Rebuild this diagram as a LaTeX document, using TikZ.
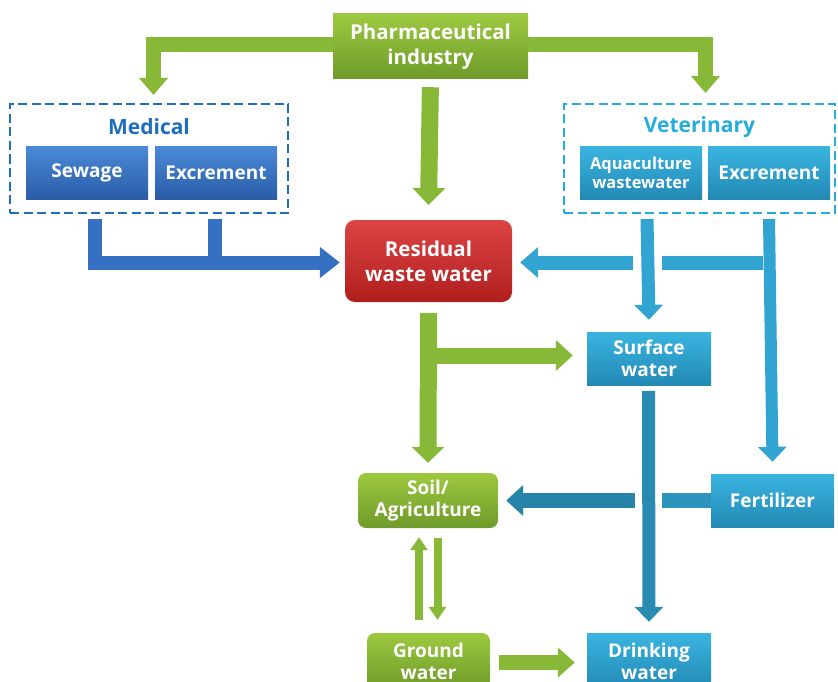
\documentclass[tikz,border=0pt]{standalone}
\usepackage{fontspec}
\setmainfont{Open Sans}
\usetikzlibrary{arrows.meta}
\definecolor{gtop}{HTML}{9DC940}
\definecolor{gbot}{HTML}{6E9A2A}
\definecolor{garr}{HTML}{88B838}
\definecolor{btop}{HTML}{4A8AD6}
\definecolor{bbot}{HTML}{2A5CA8}
\definecolor{barr}{HTML}{3670C2}
\definecolor{ltop}{HTML}{3AB4E0}
\definecolor{lbot}{HTML}{2389B5}
\definecolor{larr}{HTML}{31A4D2}
\definecolor{rtop}{HTML}{DD4444}
\definecolor{rbot}{HTML}{B01E1E}
\definecolor{medcol}{HTML}{1F6DBF}
\definecolor{vetcol}{HTML}{25ACDF}
\tikzset{
  boxtext/.style={text=white, font=\bfseries\fontsize{19}{22}\selectfont, align=center, inner sep=0pt},
  greenbox/.style={boxtext, top color=gtop, bottom color=gbot, draw=none},
  bluebox/.style={boxtext, top color=btop, bottom color=bbot, draw=none, minimum width=122pt, minimum height=52pt},
  lbluebox/.style={boxtext, top color=ltop, bottom color=lbot, draw=none},
  dashbox/.style={draw, line width=2.2pt, dash pattern=on 9pt off 4.5pt, minimum width=#1, minimum height=109pt},
  titletext/.style={font=\bfseries\fontsize{21}{24}\selectfont, inner sep=0pt},
  garrow/.style={draw=garr, line width=16pt, -{Triangle[width=30pt,length=16pt]}},
  gthin/.style={draw=garr, line width=8pt, -{Triangle[width=17pt,length=13pt]}},
  barrow/.style={draw=barr, line width=14pt, -{Triangle[width=30pt,length=20pt]}},
  bbar/.style={draw=barr, line width=14pt},
  larrow/.style={draw=larr, line width=13pt, -{Triangle[width=28pt,length=15pt]}},
  lbar/.style={draw=larr, line width=14pt},
  lhead/.style={draw=larr, line width=14pt, -{Triangle[width=30pt,length=18pt]}},
}
\begin{document}
\begin{tikzpicture}[x=1pt,y=-1pt]
\useasboundingbox (0,0) rectangle (838,682);
\clip (0,0) rectangle (838,682);

% boxes
\node[greenbox, minimum width=195pt, minimum height=65pt, font=\bfseries\fontsize{20.5}{24.5}\selectfont] (pharma) at (430.5,46.5) {Pharmaceutical\\industry};

\node[dashbox=278pt, draw=medcol] (medbox) at (149,158.5) {};
\node[titletext, text=medcol] (medlbl) at (149,127) {Medical};
\node[bluebox] (sewage) at (87,173) {Sewage};
\node[bluebox] (excr1) at (216,173) {Excrement};

\node[dashbox=271pt, draw=vetcol] (vetbox) at (699.5,158.5) {};
\node[titletext, text=vetcol] (vetlbl) at (699.5,127) {Veterinary};
\node[lbluebox, minimum width=122pt, minimum height=52pt, font=\bfseries\fontsize{16.5}{19}\selectfont] (aqua) at (641,173) {Aquaculture\\wastewater};
\node[lbluebox, minimum width=122pt, minimum height=52pt] (excr2) at (769,173) {Excrement};

\node[boxtext, top color=rtop, bottom color=rbot, rounded corners=10pt, minimum width=167pt, minimum height=82pt, font=\bfseries\fontsize{20.5}{25}\selectfont] (residual) at (428.5,261) {Residual\\waste water};

\node[lbluebox, minimum width=124pt, minimum height=53pt] (surface) at (649,358.5) {Surface\\water};
\node[lbluebox, minimum width=123pt, minimum height=53pt] (fert) at (772.5,500.5) {Fertilizer};
\node[greenbox, rounded corners=8pt, minimum width=140pt, minimum height=55pt] (soil) at (428,500.5) {Soil/\\Agriculture};
\node[greenbox, rounded corners=8pt, minimum width=123pt, minimum height=56pt] (ground) at (428.5,661) {Ground\\water};
\node[lbluebox, minimum width=124pt, minimum height=56pt] (drink) at (649,661) {Drinking\\water};

% coordinates
\coordinate (medtip) at (153.5,95);
\coordinate (vettip) at (705.5,93);
\coordinate (restop) at (428.5,205);
\coordinate (m1) at (95,219);
\coordinate (m2) at (215,219);
\coordinate (m2j) at (215,262.5);
\coordinate (a1) at (647,219);
\coordinate (v2) at (769,219);
\coordinate (vj) at (769,262.5);
\coordinate (gapR) at (662,262.5);
\coordinate (gapL) at (633,262.5);
\coordinate (r1) at (428.5,313);
\coordinate (rj) at (437,355.5);
\coordinate (s1) at (648.5,391);
\coordinate (fgR) at (662,500.5);
\coordinate (fgL) at (635,500.5);
\coordinate (up1) at (419,620);
\coordinate (dn1) at (437.5,538);

% green arrows from pharma
\draw[garrow, line width=15pt, {-Triangle[width=28pt,length=17pt]}] ([yshift=1.5pt]pharma.west) -| (medtip);
\draw[garrow, line width=15pt, {-Triangle[width=28pt,length=17pt]}] ([yshift=1.5pt]pharma.east) -| (vettip);
\draw[garrow, line width=17pt, {-Triangle[width=32pt,length=17pt]}, shorten <=8pt] (pharma.south) -- (restop);

% medical arrows
\draw[barrow] (m1) |- ([xshift=-5pt,yshift=-1.5pt]residual.west);
\draw[bbar] (m2) -- (m2j);

% veterinary arrows
\draw[lbar] (gapR) -- ([xshift=-6pt]vj);
\draw[lhead] (gapL) -- ([xshift=8pt,yshift=-1.5pt]residual.east);
\draw[larrow, line width=12pt] (v2) -- ([yshift=12pt]fert.north);
\draw[larrow] (a1) -- ([yshift=12pt]surface.north);

% residual outputs
\draw[garrow, line width=17pt, -{Triangle[width=32pt,length=16pt]}] (r1) -- ([yshift=10pt]soil.north);
\draw[garrow, line width=16pt, -{Triangle[width=30pt,length=17pt]}, shorten >=14pt] (rj) -- (rj -| surface.west);

% surface to drinking
\draw[larrow, draw=larr!85!black] (s1) -- ([yshift=11pt]drink.north);

% fertilizer to soil
\draw[lbar, line width=15pt, draw=larr!90!black] (fert.west) -- (fgR);
\draw[lhead, line width=15pt, draw=larr!80!black, -{Triangle[width=30pt,length=17pt]}] (fgL) -- ([xshift=8pt]soil.east);

% soil <-> ground
\draw[gthin] (up1) -- ([yshift=-9pt]soil.south -| up1);
\draw[gthin] (dn1) -- ([yshift=13pt]ground.north -| dn1);

% ground to drinking
\draw[garrow, line width=15pt, -{Triangle[width=29pt,length=17pt]}, shorten <=9pt] ([yshift=-1.5pt]ground.east) -- ([xshift=-12pt,yshift=-1.5pt]drink.west);
\end{tikzpicture}
\end{document}
